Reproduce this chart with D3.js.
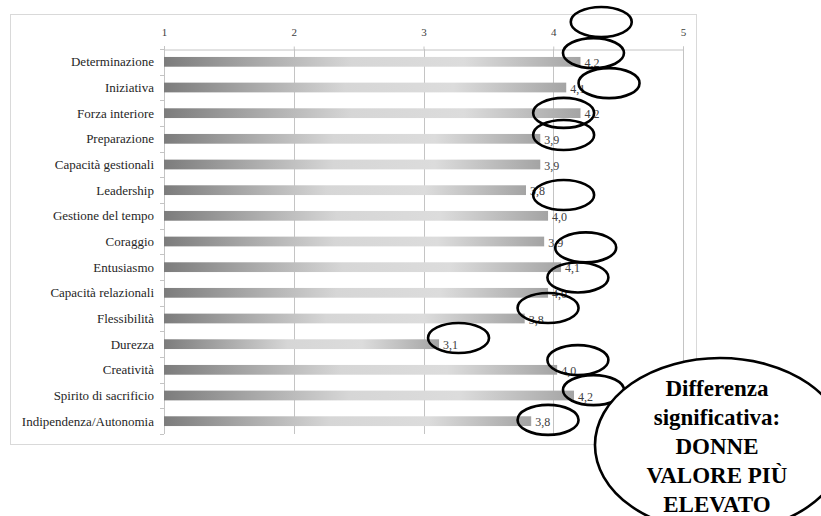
<!DOCTYPE html>
<html>
<head>
<meta charset="utf-8">
<script src="https://cdn.jsdelivr.net/npm/d3@7"></script>
<style>
  html, body { margin: 0; padding: 0; background: #fff; }
  svg { display: block; }
  svg text { font-family: "Liberation Serif", "Times New Roman", "DejaVu Serif", serif; }
</style>
</head>
<body>
<svg id="chart" width="821" height="516"></svg>
<script>
// ---- data ----
const categories = [
  "Determinazione", "Iniziativa", "Forza interiore", "Preparazione",
  "Capacità gestionali", "Leadership", "Gestione del tempo", "Coraggio",
  "Entusiasmo", "Capacità relazionali", "Flessibilità", "Durezza",
  "Creatività", "Spirito di sacrificio", "Indipendenza/Autonomia"
];
const values = [4.21, 4.10, 4.21, 3.90, 3.90, 3.79, 3.96, 3.93, 4.06, 3.96, 3.78, 3.12, 4.03, 4.16, 3.83];
const tickValues = [1, 2, 3, 4, 5];
// annotation circles: [value position, category position (band index)]
const circleX = [4.37, 4.31, 4.43, 4.08, 4.08, 4.08, 4.25, 4.19, 3.96, 3.27, 4.19, 4.31, 3.96];
const circleY = [-1.55, -0.34, 0.83, 1.99, 2.85, 5.19, 7.23, 8.40, 9.59, 10.76, 11.62, 12.79, 13.95];
const calloutLines = ["Differenza", "significativa:", "DONNE", "VALORE PIÙ", "ELEVATO"];
const calloutPos = [5.285, 14.93];

const FONT = "'Liberation Serif', 'Times New Roman', 'DejaVu Serif', serif";

// ---- layout ----
const svg = d3.select("#chart");
const plot = { left: 164, right: 683, top: 49, bottom: 434 };

const x = d3.scaleLinear().domain([1, 5]).range([plot.left, plot.right]);
const y = d3.scaleBand().domain(categories).range([plot.top, plot.bottom])
  .paddingInner(0.62).paddingOuter(0.31);
const step = y.step();
const yIdx = i => plot.top + step * (i + 0.5);

// frame
svg.append("rect")
  .attr("x", 10.5).attr("y", 14.5).attr("width", 686).attr("height", 430)
  .attr("fill", "#fff").attr("stroke", "#d9d9d9").attr("stroke-width", 1);

// gradient
const defs = svg.append("defs");
const grad = defs.append("linearGradient").attr("id", "barGrad")
  .attr("x1", "0%").attr("x2", "100%").attr("y1", "0%").attr("y2", "0%");
[["0%", "#7c7c7c"], ["45%", "#d6d6d6"], ["72%", "#dcdcdc"], ["100%", "#a4a4a4"]]
  .forEach(([o, c]) => grad.append("stop").attr("offset", o).attr("stop-color", c));

// vertical gridlines
svg.append("g").selectAll("line").data(tickValues.slice(1)).join("line")
  .attr("x1", d => Math.round(x(d)) + 0.5).attr("x2", d => Math.round(x(d)) + 0.5)
  .attr("y1", plot.top).attr("y2", plot.bottom)
  .attr("stroke", "#c4c4c4").attr("stroke-width", 1);

// top axis
const xAxis = d3.axisTop(x).tickValues(tickValues).tickSize(3).tickPadding(11)
  .tickFormat(d3.format("d"));
const gx = svg.append("g").attr("transform", `translate(0,${plot.top + 0.5})`).call(xAxis);
gx.attr("font-family", null).attr("font-size", null);
gx.select(".domain").attr("stroke", "#c4c4c4");
gx.selectAll(".tick line").attr("stroke", "#c4c4c4");
gx.selectAll(".tick text").attr("fill", "#404040")
  .attr("font-family", FONT).attr("font-size", 11);

// left axis line + ticks at band boundaries
svg.append("line")
  .attr("x1", plot.left + 0.5).attr("x2", plot.left + 0.5)
  .attr("y1", plot.top - 3).attr("y2", plot.bottom)
  .attr("stroke", "#c4c4c4");
const boundaries = d3.range(categories.length + 1).map(i => plot.top + i * step);
svg.append("g").selectAll("line").data(boundaries).join("line")
  .attr("x1", plot.left - 4).attr("x2", plot.left)
  .attr("y1", d => Math.round(d) + 0.5).attr("y2", d => Math.round(d) + 0.5)
  .attr("stroke", "#c4c4c4");

// category labels
svg.append("g").selectAll("text").data(categories).join("text")
  .attr("x", plot.left - 10)
  .attr("y", d => y(d) + y.bandwidth() / 2)
  .attr("dy", "0.35em")
  .attr("text-anchor", "end")
  .attr("fill", "#262626")
  .attr("font-family", FONT)
  .attr("font-size", 13)
  .text(d => d);

// bars
svg.append("g").selectAll("rect").data(values).join("rect")
  .attr("x", x(1))
  .attr("y", (d, i) => y(categories[i]))
  .attr("width", d => x(d) - x(1))
  .attr("height", y.bandwidth())
  .attr("fill", "url(#barGrad)");

// value labels
const fmt = d => d3.format(".1f")(d).replace(".", ",");
svg.append("g").selectAll("text").data(values).join("text")
  .attr("x", d => x(d) + 4)
  .attr("y", (d, i) => y(categories[i]) + y.bandwidth() / 2 + 1)
  .attr("dy", "0.35em")
  .attr("fill", "#404040")
  .attr("font-family", FONT)
  .attr("font-size", 12)
  .text(fmt);

// annotation ellipses
svg.append("g").selectAll("ellipse").data(circleX).join("ellipse")
  .attr("cx", d => x(d))
  .attr("cy", (d, i) => yIdx(circleY[i]))
  .attr("rx", 30.5).attr("ry", 15)
  .attr("fill", "none").attr("stroke", "#000").attr("stroke-width", 2.6);

// callout
const cx = x(calloutPos[0]), cy = yIdx(calloutPos[1]);
svg.append("ellipse")
  .attr("cx", cx).attr("cy", cy).attr("rx", 125).attr("ry", 87)
  .attr("fill", "#fff").attr("stroke", "#000").attr("stroke-width", 2.6);
svg.append("g").selectAll("text").data(calloutLines).join("text")
  .attr("x", cx - 3)
  .attr("y", (d, i) => 396 + i * 29)
  .attr("text-anchor", "middle")
  .attr("fill", "#000")
  .attr("font-family", FONT)
  .attr("font-size", 23).attr("font-weight", "bold")
  .text(d => d);
</script>
</body>
</html>
